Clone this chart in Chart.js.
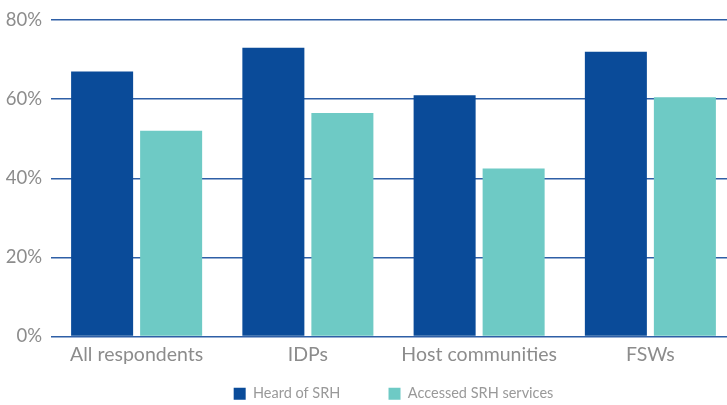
<!DOCTYPE html>
<html>
<head>
<meta charset="utf-8">
<script src="https://cdn.jsdelivr.net/npm/chart.js@4/dist/chart.umd.min.js"></script>
<style>
  html, body { margin: 0; padding: 0; background: #ffffff; overflow: hidden; }
  #wrap { width: 727px; height: 405px; overflow: hidden; }
  canvas { display: block; }
</style>
</head>
<body>
<div id="wrap"><canvas id="chart" width="736" height="405"></canvas></div>
<script>
const categories = ["All respondents", "IDPs", "Host communities", "FSWs"];
const heardOfSRH = [67, 73, 61, 72];
const accessedSRH = [52, 56.5, 42.5, 60.5];
const seriesNames = ["Heard of SRH", "Accessed SRH services"];
const yTicks = [0, 20, 40, 60, 80];

const DARK_BLUE = "#0a4b99";
const TEAL = "#6ecac5";
const GRID = "#2e5fa6";
const TEXT = "#8c8c8c";
const FONT = "Lato, 'Open Sans', sans-serif";

new Chart(document.getElementById("chart"), {
  type: "bar",
  data: {
    labels: categories,
    datasets: [
      { label: seriesNames[0], data: heardOfSRH, backgroundColor: DARK_BLUE,
        categoryPercentage: 0.806, barPercentage: 0.8986 },
      { label: seriesNames[1], data: accessedSRH, backgroundColor: TEAL,
        categoryPercentage: 0.806, barPercentage: 0.8986 }
    ]
  },
  options: {
    responsive: false,
    animation: false,
    devicePixelRatio: 1,
    layout: { padding: { top: 18, right: 0, bottom: -6, left: 0 } },
    plugins: {
      tooltip: { enabled: false },
      legend: {
        position: "bottom",
        fullSize: false,
        labels: {
          boxWidth: 12,
          boxHeight: 12,
          padding: 19,
          color: "#999999",
          font: { family: FONT, size: 14.5 },
          // widen the gap between legend entries without adding vertical space
          generateLabels: (chart) => {
            const items = Chart.defaults.plugins.legend.labels.generateLabels(chart);
            items.slice(0, -1).forEach(it => { it.text += "\u2003\u2003  "; });
            return items;
          }
        }
      }
    },
    scales: {
      x: {
        grid: { display: false, drawTicks: false },
        border: { display: false },
        afterFit: (scale) => { scale.height = 31; },
        ticks: {
          color: TEXT,
          padding: 7,
          font: { family: FONT, size: 19.5 },
          maxRotation: 0
        }
      },
      y: {
        min: 0,
        max: 80,
        afterBuildTicks: (scale) => { scale.ticks = yTicks.map(v => ({ value: v })); },
        afterFit: (scale) => { scale.width = 51; },
        grid: { color: GRID, lineWidth: 1.5, drawTicks: false },
        border: { display: false },
        ticks: {
          color: TEXT,
          padding: 9,
          font: { family: FONT, size: 18.5 },
          callback: (v) => v + "%"
        }
      }
    }
  }
});
</script>
</body>
</html>
